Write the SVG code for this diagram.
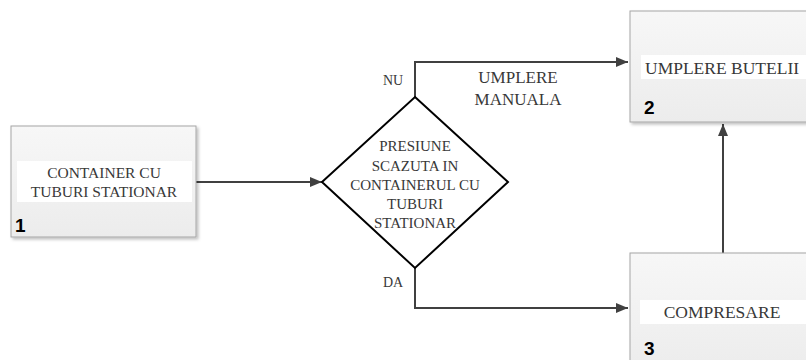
<svg xmlns="http://www.w3.org/2000/svg" width="806" height="360" viewBox="0 0 806 360">
<defs>
<linearGradient id="bg" x1="0" y1="0" x2="0" y2="1">
<stop offset="0" stop-color="#f7f7f7"/>
<stop offset="1" stop-color="#ececec"/>
</linearGradient>
<filter id="sh" x="-10%" y="-10%" width="130%" height="130%">
<feDropShadow dx="2" dy="2" stdDeviation="1.5" flood-color="#000" flood-opacity="0.25"/>
</filter>
<marker id="ah" viewBox="0 0 12 10" refX="12" refY="5" markerWidth="12" markerHeight="10" markerUnits="userSpaceOnUse" orient="auto">
<path d="M0,0 L12,5 L0,10 Z" fill="#404040"/>
</marker>
<style>
.box{fill:url(#bg);stroke:#a6a6a6;stroke-width:1;filter:url(#sh)}
.band{fill:#ffffff}
.t{font-family:"Liberation Serif",serif;fill:#383838}
.num{font-family:"Liberation Sans",sans-serif;font-weight:bold;font-size:19px;fill:#000}
.c{fill:none;stroke:#404040;stroke-width:2}
</style>
</defs>
<rect width="806" height="360" fill="#fff"/>
<g id="connectors">
<path class="c" d="M196,182 H322" marker-end="url(#ah)"/>
<path class="c" d="M415,97 V62 H628" marker-end="url(#ah)"/>
<path class="c" d="M415,268 V308 H628" marker-end="url(#ah)"/>
<path class="c" d="M723,253 V124" marker-end="url(#ah)"/>
<text class="t" x="393" y="85" font-size="14" text-anchor="middle">NU</text>
<text class="t" x="393" y="287" font-size="14" text-anchor="middle">DA</text>
<text class="t" x="518" y="83" font-size="17" text-anchor="middle">UMPLERE</text>
<text class="t" x="518" y="105" font-size="17" text-anchor="middle">MANUALA</text>
</g>
<g id="node1">
<rect class="box" x="11" y="126" width="185" height="111"/>
<rect class="band" x="17" y="161" width="175" height="41"/>
<text class="t" x="104" y="178" font-size="15.5" text-anchor="middle">CONTAINER CU</text>
<text class="t" x="104" y="197" font-size="15.5" text-anchor="middle">TUBURI STATIONAR</text>
<text class="num" x="15" y="232">1</text>
</g>
<g id="decision">
<polygon points="415,97 508,182 415,268 322,182" fill="#fff" stroke="#000" stroke-width="2"/>
<text class="t" x="415" y="151" font-size="15" text-anchor="middle">PRESIUNE</text>
<text class="t" x="415" y="171" font-size="15" text-anchor="middle">SCAZUTA IN</text>
<text class="t" x="415" y="190" font-size="15" text-anchor="middle">CONTAINERUL CU</text>
<text class="t" x="415" y="209" font-size="15" text-anchor="middle">TUBURI</text>
<text class="t" x="415" y="228" font-size="15" text-anchor="middle">STATIONAR</text>
</g>
<g id="node2">
<rect class="box" x="630" y="11" width="190" height="111"/>
<rect class="band" x="641" y="55" width="170" height="24"/>
<text class="t" x="645" y="74" font-size="17.5">UMPLERE BUTELII</text>
<text class="num" x="644" y="114">2</text>
</g>
<g id="node3">
<rect class="box" x="630" y="253" width="190" height="120"/>
<rect class="band" x="640" y="300" width="170" height="24"/>
<text class="t" x="722" y="318" font-size="17.5" text-anchor="middle">COMPRESARE</text>
<text class="num" x="644" y="355">3</text>
</g>
</svg>
